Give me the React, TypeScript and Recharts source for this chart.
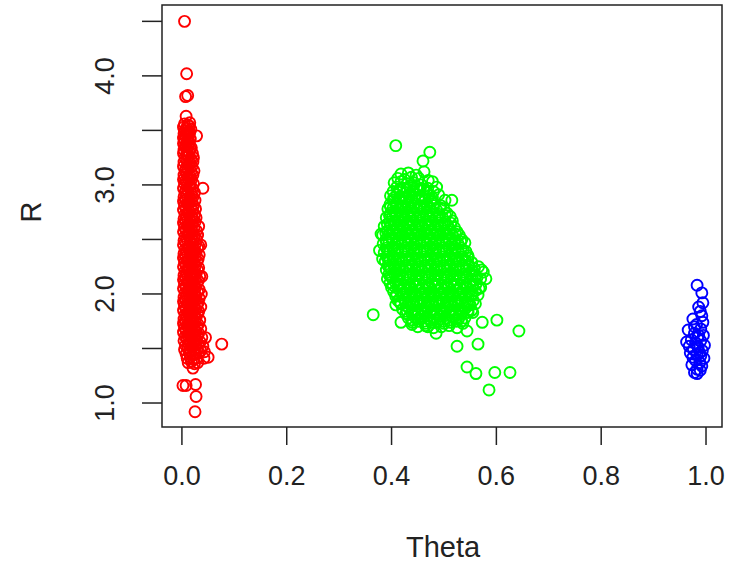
import React from 'react';
import { ScatterChart, Scatter, XAxis, YAxis, ReferenceArea } from 'recharts';

// --- axis setup (R base-plot look) ---
const xDomain: [number, number] = [-0.038, 1.0305];
const yDomain: [number, number] = [0.78, 4.65];
const xTicks = [0, 0.2, 0.4, 0.6, 0.8, 1.0];
const yTicks = [1, 1.5, 2, 2.5, 3, 3.5, 4, 4.5];
const yLabelTicks = [1, 2, 3, 4];

// --- cluster 1 (red), theta close to 0 ---
const redPoints: [number, number][] = [
  [0.005, 4.5], [0.009, 4.02], [0.007, 3.81], [0.011, 3.82], [0.008, 3.63], [0.028, 3.45], [0.040, 2.97],
  [0.005, 3.56], [0.011, 3.55], [0.015, 3.57], [0.003, 3.53], [0.009, 3.52], [0.014, 3.54],
  [0.006, 3.5], [0.012, 3.49], [0.017, 3.51], [0.004, 3.47], [0.010, 3.46], [0.015, 3.48],
  [0.007, 3.44], [0.013, 3.45], [0.003, 3.43], [0.005, 3.41], [0.011, 3.4], [0.016, 3.42],
  [0.003, 3.38], [0.008, 3.37], [0.014, 3.39], [0.006, 3.35], [0.012, 3.36], [0.018, 3.34],
  [0.004, 3.32], [0.010, 3.31], [0.016, 3.33],
  [0.003, 3.29], [0.009, 3.28], [0.014, 3.3], [0.020, 3.29], [0.006, 3.25], [0.012, 3.26], [0.017, 3.24], [0.022, 3.25],
  [0.004, 3.21], [0.010, 3.22], [0.015, 3.2], [0.021, 3.21], [0.003, 3.17], [0.008, 3.16], [0.013, 3.18], [0.019, 3.17],
  [0.006, 3.13], [0.011, 3.14], [0.017, 3.12], [0.023, 3.13], [0.004, 3.09], [0.009, 3.1], [0.015, 3.08], [0.021, 3.09],
  [0.003, 3.05], [0.007, 3.04], [0.012, 3.06], [0.018, 3.05], [0.005, 3.01], [0.010, 3.02], [0.016, 3.0], [0.022, 3.01],
  [0.003, 2.97], [0.008, 2.96], [0.014, 2.98], [0.020, 2.97], [0.006, 2.93], [0.012, 2.94], [0.018, 2.92], [0.024, 2.93],
  [0.004, 2.89], [0.009, 2.9], [0.015, 2.88], [0.021, 2.89], [0.003, 2.85], [0.007, 2.86], [0.013, 2.84], [0.019, 2.85], [0.025, 2.86],
  [0.005, 2.81], [0.011, 2.82], [0.017, 2.8], [0.022, 2.81], [0.003, 2.77], [0.008, 2.78], [0.014, 2.76], [0.020, 2.77], [0.026, 2.78],
  [0.006, 2.73], [0.012, 2.74], [0.018, 2.72], [0.024, 2.73], [0.004, 2.69], [0.009, 2.7], [0.015, 2.68], [0.021, 2.69], [0.027, 2.7],
  [0.003, 2.65], [0.007, 2.66], [0.013, 2.64], [0.019, 2.65], [0.025, 2.66], [0.005, 2.61], [0.011, 2.62], [0.017, 2.6], [0.023, 2.61],
  [0.003, 2.57], [0.008, 2.58], [0.014, 2.56], [0.020, 2.57], [0.028, 2.58], [0.006, 2.53], [0.012, 2.54], [0.018, 2.52], [0.024, 2.53], [0.030, 2.54],
  [0.004, 2.49], [0.010, 2.5], [0.016, 2.48], [0.022, 2.49], [0.028, 2.5],
  [0.003, 2.45], [0.008, 2.46], [0.014, 2.44], [0.020, 2.45], [0.026, 2.46], [0.032, 2.44],
  [0.006, 2.41], [0.012, 2.42], [0.018, 2.4], [0.024, 2.41], [0.030, 2.42],
  [0.004, 2.37], [0.009, 2.38], [0.015, 2.36], [0.021, 2.37], [0.027, 2.38], [0.033, 2.36],
  [0.003, 2.33], [0.007, 2.34], [0.013, 2.32], [0.019, 2.33], [0.025, 2.34], [0.031, 2.32],
  [0.005, 2.29], [0.011, 2.3], [0.017, 2.28], [0.023, 2.29], [0.029, 2.3],
  [0.003, 2.25], [0.008, 2.26], [0.014, 2.24], [0.020, 2.25], [0.026, 2.26], [0.032, 2.24],
  [0.006, 2.21], [0.012, 2.22], [0.018, 2.2], [0.024, 2.21], [0.030, 2.22],
  [0.004, 2.17], [0.009, 2.18], [0.015, 2.16], [0.021, 2.17], [0.027, 2.18], [0.034, 2.16],
  [0.003, 2.13], [0.007, 2.14], [0.013, 2.12], [0.019, 2.13], [0.025, 2.14], [0.031, 2.12],
  [0.005, 2.09], [0.011, 2.1], [0.017, 2.08], [0.023, 2.09], [0.029, 2.1],
  [0.003, 2.05], [0.008, 2.06], [0.014, 2.04], [0.020, 2.05], [0.026, 2.06], [0.033, 2.04],
  [0.006, 2.01], [0.012, 2.02], [0.018, 2.0], [0.024, 2.01], [0.030, 2.02], [0.037, 2.0],
  [0.004, 1.97], [0.009, 1.98], [0.015, 1.96], [0.021, 1.97], [0.027, 1.98], [0.033, 1.96],
  [0.003, 1.93], [0.007, 1.94], [0.013, 1.92], [0.019, 1.93], [0.025, 1.94], [0.031, 1.92],
  [0.005, 1.89], [0.011, 1.9], [0.017, 1.88], [0.023, 1.89], [0.029, 1.9], [0.036, 1.88],
  [0.003, 1.85], [0.008, 1.86], [0.014, 1.84], [0.020, 1.85], [0.026, 1.86], [0.032, 1.84],
  [0.006, 1.81], [0.012, 1.82], [0.018, 1.8], [0.024, 1.81], [0.030, 1.82],
  [0.004, 1.77], [0.009, 1.78], [0.015, 1.76], [0.021, 1.77], [0.027, 1.78], [0.034, 1.76],
  [0.003, 1.73], [0.007, 1.74], [0.013, 1.72], [0.019, 1.73], [0.025, 1.74], [0.031, 1.72],
  [0.005, 1.69], [0.011, 1.7], [0.017, 1.68], [0.023, 1.69], [0.029, 1.7], [0.036, 1.68],
  [0.003, 1.65], [0.008, 1.66], [0.014, 1.64], [0.020, 1.65], [0.026, 1.66], [0.032, 1.64],
  [0.006, 1.61], [0.012, 1.62], [0.018, 1.6], [0.024, 1.61], [0.030, 1.62], [0.038, 1.6],
  [0.004, 1.57], [0.010, 1.58], [0.016, 1.56], [0.022, 1.57], [0.028, 1.58], [0.035, 1.56],
  [0.007, 1.53], [0.013, 1.54], [0.019, 1.52], [0.025, 1.53], [0.031, 1.54], [0.040, 1.52],
  [0.005, 1.49], [0.011, 1.5], [0.017, 1.48], [0.023, 1.49], [0.029, 1.5], [0.036, 1.48],
  [0.008, 1.45], [0.014, 1.46], [0.020, 1.44], [0.026, 1.45], [0.033, 1.46], [0.043, 1.47],
  [0.010, 1.41], [0.016, 1.42], [0.022, 1.4], [0.028, 1.41], [0.042, 1.41],
  [0.012, 1.37], [0.018, 1.38], [0.024, 1.36], [0.030, 1.37],
  [0.045, 1.6], [0.038, 2.16], [0.036, 2.45], [0.032, 2.62], [0.076, 1.54], [0.05, 1.42], [0.021, 1.32],
  [0.002, 1.16], [0.008, 1.16], [0.026, 1.17], [0.027, 1.06], [0.025, 0.92],
];

// --- cluster 2 (green), theta around 0.45 ---
const greenPoints: [number, number][] = [
  [0.408, 3.36], [0.473, 3.3], [0.46, 3.22],
  [0.418, 3.1], [0.432, 3.11], [0.447, 3.09], [0.462, 3.12],
  [0.412, 3.06], [0.425, 3.05], [0.438, 3.07], [0.452, 3.06], [0.47, 3.04],
  [0.405, 3.02], [0.418, 3.03], [0.43, 3.01], [0.443, 3.02], [0.457, 3.0], [0.478, 3.03],
  [0.41, 2.98], [0.423, 2.97], [0.435, 2.99], [0.448, 2.98], [0.462, 2.96], [0.486, 2.98],
  [0.403, 2.94], [0.415, 2.95], [0.428, 2.93], [0.44, 2.94], [0.453, 2.95], [0.467, 2.93], [0.48, 2.94],
  [0.398, 2.9], [0.41, 2.91], [0.421, 2.89], [0.433, 2.9], [0.446, 2.91], [0.458, 2.89], [0.472, 2.9], [0.49, 2.91],
  [0.404, 2.86], [0.416, 2.87], [0.427, 2.85], [0.439, 2.86], [0.451, 2.87], [0.463, 2.85], [0.476, 2.86], [0.502, 2.86], [0.515, 2.86],
  [0.397, 2.82], [0.409, 2.83], [0.42, 2.81], [0.432, 2.82], [0.444, 2.83], [0.456, 2.81], [0.468, 2.82], [0.481, 2.83], [0.494, 2.81],
  [0.393, 2.78], [0.403, 2.79], [0.414, 2.77], [0.426, 2.78], [0.437, 2.79], [0.449, 2.77], [0.461, 2.78], [0.473, 2.79], [0.486, 2.77], [0.5, 2.78],
  [0.398, 2.74], [0.409, 2.75], [0.42, 2.73], [0.431, 2.74], [0.443, 2.75], [0.455, 2.73], [0.467, 2.74], [0.479, 2.75], [0.491, 2.73], [0.506, 2.74],
  [0.39, 2.7], [0.402, 2.71], [0.413, 2.69], [0.425, 2.7], [0.436, 2.71], [0.448, 2.69], [0.46, 2.7], [0.472, 2.71], [0.484, 2.69], [0.497, 2.7], [0.512, 2.71],
  [0.396, 2.66], [0.407, 2.67], [0.418, 2.65], [0.43, 2.66], [0.441, 2.67], [0.453, 2.65], [0.465, 2.66], [0.477, 2.67], [0.489, 2.65], [0.502, 2.66], [0.516, 2.67],
  [0.386, 2.62], [0.399, 2.63], [0.411, 2.61], [0.422, 2.62], [0.434, 2.63], [0.446, 2.61], [0.458, 2.62], [0.47, 2.63], [0.482, 2.61], [0.494, 2.62], [0.507, 2.63], [0.52, 2.61],
  [0.392, 2.58], [0.404, 2.59], [0.416, 2.57], [0.428, 2.58], [0.44, 2.59], [0.452, 2.57], [0.464, 2.58], [0.476, 2.59], [0.488, 2.57], [0.5, 2.58], [0.512, 2.59], [0.525, 2.57],
  [0.383, 2.54], [0.396, 2.55], [0.408, 2.53], [0.42, 2.54], [0.432, 2.55], [0.444, 2.53], [0.456, 2.54], [0.468, 2.55], [0.48, 2.53], [0.492, 2.54], [0.504, 2.55], [0.517, 2.53], [0.529, 2.54],
  [0.389, 2.5], [0.401, 2.51], [0.413, 2.49], [0.425, 2.5], [0.437, 2.51], [0.449, 2.49], [0.461, 2.5], [0.473, 2.51], [0.485, 2.49], [0.497, 2.5], [0.509, 2.51], [0.522, 2.49], [0.534, 2.5],
  [0.384, 2.46], [0.395, 2.47], [0.407, 2.45], [0.419, 2.46], [0.431, 2.47], [0.443, 2.45], [0.455, 2.46], [0.467, 2.47], [0.479, 2.45], [0.491, 2.46], [0.503, 2.47], [0.515, 2.45], [0.527, 2.46], [0.54, 2.47],
  [0.39, 2.42], [0.401, 2.43], [0.413, 2.41], [0.425, 2.42], [0.437, 2.43], [0.449, 2.41], [0.461, 2.42], [0.473, 2.43], [0.485, 2.41], [0.497, 2.42], [0.509, 2.43], [0.521, 2.41], [0.533, 2.42],
  [0.386, 2.38], [0.396, 2.39], [0.408, 2.37], [0.42, 2.38], [0.432, 2.39], [0.444, 2.37], [0.456, 2.38], [0.468, 2.39], [0.48, 2.37], [0.492, 2.38], [0.504, 2.39], [0.516, 2.37], [0.528, 2.38], [0.542, 2.39],
  [0.391, 2.34], [0.402, 2.35], [0.414, 2.33], [0.426, 2.34], [0.438, 2.35], [0.45, 2.33], [0.462, 2.34], [0.474, 2.35], [0.486, 2.33], [0.498, 2.34], [0.51, 2.35], [0.522, 2.33], [0.534, 2.34], [0.546, 2.35],
  [0.388, 2.3], [0.397, 2.31], [0.409, 2.29], [0.421, 2.3], [0.433, 2.31], [0.445, 2.29], [0.457, 2.3], [0.469, 2.31], [0.481, 2.29], [0.493, 2.3], [0.505, 2.31], [0.517, 2.29], [0.529, 2.3], [0.541, 2.31], [0.553, 2.29],
  [0.393, 2.26], [0.404, 2.27], [0.415, 2.25], [0.427, 2.26], [0.439, 2.27], [0.451, 2.25], [0.463, 2.26], [0.475, 2.27], [0.487, 2.25], [0.499, 2.26], [0.511, 2.27], [0.523, 2.25], [0.535, 2.26], [0.547, 2.27], [0.566, 2.25],
  [0.39, 2.22], [0.399, 2.23], [0.41, 2.21], [0.422, 2.22], [0.434, 2.23], [0.446, 2.21], [0.458, 2.22], [0.47, 2.23], [0.482, 2.21], [0.494, 2.22], [0.506, 2.23], [0.518, 2.21], [0.53, 2.22], [0.542, 2.23], [0.554, 2.21], [0.572, 2.22],
  [0.395, 2.18], [0.405, 2.19], [0.416, 2.17], [0.428, 2.18], [0.44, 2.19], [0.452, 2.17], [0.464, 2.18], [0.476, 2.19], [0.488, 2.17], [0.5, 2.18], [0.512, 2.19], [0.524, 2.17], [0.536, 2.18], [0.548, 2.19], [0.56, 2.17],
  [0.392, 2.14], [0.401, 2.15], [0.411, 2.13], [0.423, 2.14], [0.435, 2.15], [0.447, 2.13], [0.459, 2.14], [0.471, 2.15], [0.483, 2.13], [0.495, 2.14], [0.507, 2.15], [0.519, 2.13], [0.531, 2.14], [0.543, 2.15], [0.555, 2.13], [0.57, 2.14],
  [0.397, 2.1], [0.407, 2.11], [0.418, 2.09], [0.429, 2.1], [0.441, 2.11], [0.453, 2.09], [0.465, 2.1], [0.477, 2.11], [0.489, 2.09], [0.501, 2.1], [0.513, 2.11], [0.525, 2.09], [0.537, 2.1], [0.549, 2.11], [0.561, 2.09],
  [0.4, 2.06], [0.412, 2.07], [0.423, 2.05], [0.435, 2.06], [0.447, 2.07], [0.459, 2.05], [0.471, 2.06], [0.483, 2.07], [0.495, 2.05], [0.507, 2.06], [0.519, 2.07], [0.531, 2.05], [0.543, 2.06], [0.555, 2.07], [0.567, 2.05],
  [0.404, 2.02], [0.416, 2.03], [0.428, 2.01], [0.44, 2.02], [0.452, 2.03], [0.464, 2.01], [0.476, 2.02], [0.488, 2.03], [0.5, 2.01], [0.512, 2.02], [0.524, 2.03], [0.536, 2.01], [0.548, 2.02], [0.56, 2.03],
  [0.408, 1.98], [0.42, 1.99], [0.432, 1.97], [0.444, 1.98], [0.456, 1.99], [0.468, 1.97], [0.48, 1.98], [0.492, 1.99], [0.504, 1.97], [0.516, 1.98], [0.528, 1.99], [0.54, 1.97], [0.552, 1.98], [0.565, 1.99],
  [0.412, 1.94], [0.424, 1.95], [0.436, 1.93], [0.448, 1.94], [0.46, 1.95], [0.472, 1.93], [0.484, 1.94], [0.496, 1.95], [0.508, 1.93], [0.52, 1.94], [0.532, 1.95], [0.544, 1.93], [0.556, 1.94],
  [0.408, 1.9], [0.418, 1.91], [0.43, 1.89], [0.442, 1.9], [0.454, 1.91], [0.466, 1.89], [0.478, 1.9], [0.49, 1.91], [0.502, 1.89], [0.514, 1.9], [0.526, 1.91], [0.538, 1.89], [0.55, 1.9], [0.56, 1.91],
  [0.421, 1.86], [0.433, 1.87], [0.445, 1.85], [0.457, 1.86], [0.469, 1.87], [0.481, 1.85], [0.493, 1.86], [0.505, 1.87], [0.517, 1.85], [0.529, 1.86], [0.541, 1.87], [0.553, 1.85],
  [0.427, 1.82], [0.438, 1.83], [0.45, 1.81], [0.462, 1.82], [0.474, 1.83], [0.486, 1.81], [0.498, 1.82], [0.51, 1.83], [0.522, 1.81], [0.534, 1.82], [0.546, 1.83], [0.555, 1.83],
  [0.432, 1.78], [0.444, 1.79], [0.456, 1.77], [0.468, 1.78], [0.48, 1.79], [0.492, 1.77], [0.504, 1.78], [0.516, 1.79], [0.528, 1.77], [0.54, 1.78],
  [0.44, 1.74], [0.452, 1.75], [0.464, 1.73], [0.476, 1.74], [0.488, 1.75], [0.5, 1.73], [0.512, 1.74], [0.524, 1.75], [0.536, 1.73],
  [0.45, 1.7], [0.465, 1.71], [0.48, 1.69], [0.495, 1.7], [0.51, 1.71], [0.525, 1.69],
  [0.38, 2.55], [0.377, 2.4], [0.383, 2.32], [0.575, 2.2], [0.58, 2.14], [0.57, 2.06],
  [0.365, 1.81], [0.418, 1.74], [0.439, 1.72], [0.469, 1.7], [0.485, 1.64], [0.544, 1.66], [0.573, 1.74], [0.601, 1.76], [0.643, 1.66],
  [0.525, 1.52], [0.565, 1.54], [0.544, 1.33], [0.561, 1.27], [0.597, 1.28], [0.626, 1.28], [0.586, 1.12],
];

// dense core of the green cluster (points between the rows above)
const greenCorePoints: [number, number][] = [
  [0.416, 2.96], [0.429, 2.97], [0.441, 2.95], [0.455, 2.96], [0.469, 2.97],
  [0.404, 2.88], [0.415, 2.89], [0.427, 2.87], [0.439, 2.88], [0.452, 2.89], [0.464, 2.87], [0.478, 2.88],
  [0.398, 2.8], [0.408, 2.81], [0.42, 2.79], [0.431, 2.8], [0.443, 2.81], [0.455, 2.79], [0.467, 2.8], [0.48, 2.81], [0.493, 2.79],
  [0.396, 2.72], [0.407, 2.73], [0.419, 2.71], [0.43, 2.72], [0.442, 2.73], [0.454, 2.71], [0.466, 2.72], [0.478, 2.73], [0.49, 2.71], [0.503, 2.72],
  [0.392, 2.64], [0.405, 2.65], [0.416, 2.63], [0.428, 2.64], [0.44, 2.65], [0.452, 2.63], [0.464, 2.64], [0.476, 2.65], [0.488, 2.63], [0.5, 2.64], [0.513, 2.65],
  [0.389, 2.56], [0.402, 2.57], [0.414, 2.55], [0.426, 2.56], [0.438, 2.57], [0.45, 2.55], [0.462, 2.56], [0.474, 2.57], [0.486, 2.55], [0.498, 2.56], [0.51, 2.57], [0.522, 2.55],
  [0.39, 2.48], [0.401, 2.49], [0.413, 2.47], [0.425, 2.48], [0.437, 2.49], [0.449, 2.47], [0.461, 2.48], [0.473, 2.49], [0.485, 2.47], [0.497, 2.48], [0.509, 2.49], [0.521, 2.47], [0.532, 2.48],
  [0.393, 2.4], [0.407, 2.41], [0.419, 2.39], [0.431, 2.4], [0.443, 2.41], [0.455, 2.39], [0.467, 2.4], [0.479, 2.41], [0.491, 2.39], [0.503, 2.4], [0.515, 2.41], [0.527, 2.39], [0.537, 2.4],
  [0.394, 2.32], [0.403, 2.33], [0.415, 2.31], [0.427, 2.32], [0.439, 2.33], [0.451, 2.31], [0.463, 2.32], [0.475, 2.33], [0.487, 2.31], [0.499, 2.32], [0.511, 2.33], [0.523, 2.31], [0.535, 2.32], [0.546, 2.33],
  [0.396, 2.24], [0.405, 2.25], [0.416, 2.23], [0.428, 2.24], [0.44, 2.25], [0.452, 2.23], [0.464, 2.24], [0.476, 2.25], [0.488, 2.23], [0.5, 2.24], [0.512, 2.25], [0.524, 2.23], [0.536, 2.24], [0.548, 2.25], [0.558, 2.23],
  [0.398, 2.16], [0.41, 2.17], [0.422, 2.15], [0.434, 2.16], [0.446, 2.17], [0.458, 2.15], [0.47, 2.16], [0.482, 2.17], [0.494, 2.15], [0.506, 2.16], [0.518, 2.17], [0.53, 2.15], [0.542, 2.16], [0.554, 2.17], [0.563, 2.15],
  [0.403, 2.08], [0.413, 2.09], [0.424, 2.07], [0.435, 2.08], [0.447, 2.09], [0.459, 2.07], [0.471, 2.08], [0.483, 2.09], [0.495, 2.07], [0.507, 2.08], [0.519, 2.09], [0.531, 2.07], [0.543, 2.08], [0.555, 2.09],
  [0.41, 2.0], [0.422, 2.01], [0.434, 1.99], [0.446, 2.0], [0.458, 2.01], [0.47, 1.99], [0.482, 2.0], [0.494, 2.01], [0.506, 1.99], [0.518, 2.0], [0.53, 2.01], [0.542, 1.99], [0.554, 2.0],
  [0.416, 1.92], [0.427, 1.93], [0.439, 1.91], [0.451, 1.92], [0.463, 1.93], [0.475, 1.91], [0.487, 1.92], [0.499, 1.93], [0.511, 1.91], [0.523, 1.92], [0.535, 1.93], [0.547, 1.91],
  [0.43, 1.84], [0.439, 1.85], [0.451, 1.83], [0.463, 1.84], [0.475, 1.85], [0.487, 1.83], [0.499, 1.84], [0.511, 1.85], [0.523, 1.83], [0.535, 1.84], [0.546, 1.85],
  [0.44, 1.76], [0.45, 1.77], [0.462, 1.75], [0.474, 1.76], [0.486, 1.77], [0.498, 1.75], [0.51, 1.76], [0.522, 1.77], [0.533, 1.75],
];

// --- cluster 3 (blue), theta close to 1 ---
const bluePoints: [number, number][] = [
  [0.983, 2.08], [0.992, 2.01], [0.994, 1.92], [0.986, 1.88], [0.989, 1.84], [0.992, 1.8], [0.975, 1.77], [0.994, 1.74],
  [0.982, 1.72], [0.978, 1.7], [0.966, 1.67], [0.99, 1.68], [0.978, 1.64], [0.995, 1.62], [0.986, 1.62], [0.984, 1.6],
  [0.963, 1.56], [0.972, 1.58], [0.99, 1.57], [0.98, 1.55], [0.997, 1.53], [0.968, 1.52], [0.985, 1.51], [0.984, 1.52],
  [0.976, 1.49], [0.993, 1.48], [0.97, 1.46], [0.983, 1.45], [0.988, 1.46], [0.99, 1.43], [0.975, 1.42], [0.996, 1.41],
  [0.98, 1.39], [0.988, 1.37], [0.973, 1.35], [0.992, 1.34], [0.983, 1.31], [0.989, 1.3], [0.978, 1.28], [0.983, 1.27],
];

const toRows = (pts: [number, number][]) => pts.map(([x, y]) => ({ x, y }));
const redData = toRows(redPoints);
const greenData = toRows([...greenPoints, ...greenCorePoints]);
const blueData = toRows(bluePoints);

const FONT = '"Liberation Sans", Arial, Helvetica, sans-serif';

const ring = (color: string) => (props: any) => (
  <circle cx={props.cx} cy={props.cy} r={5.5} fill="none" stroke={color} strokeWidth={1.9} />
);

const XTick = (props: any) => {
  const { x, y, payload } = props;
  return (
    <text x={x} y={y + 38} textAnchor="middle" fontSize={27} fontFamily={FONT} fill="#222">
      {payload.value.toFixed(1)}
    </text>
  );
};

const YTick = (props: any) => {
  const { x, y, payload } = props;
  if (!yLabelTicks.includes(payload.value)) return <g />;
  const lx = x - 35;
  return (
    <text x={lx} y={y} textAnchor="middle" dominantBaseline="central" fontSize={27} fontFamily={FONT} fill="#222"
      transform={`rotate(-90, ${lx}, ${y})`}>
      {payload.value.toFixed(1)}
    </text>
  );
};

const App = () => {
  return (
    <div style={{ position: 'absolute', left: 0, top: 0, width: 739, height: 564, background: '#fff', fontFamily: FONT }}>
      <ScatterChart width={739} height={564} margin={{ top: 5, right: 17, bottom: 0, left: 0 }}>
        <XAxis
          type="number"
          dataKey="x"
          domain={xDomain}
          ticks={xTicks}
          allowDataOverflow
          axisLine={false}
          tickLine={{ stroke: '#222', strokeWidth: 1.5 }}
          tickSize={18}
          height={137}
          tick={<XTick />}
        />
        <YAxis
          type="number"
          dataKey="y"
          domain={yDomain}
          ticks={yTicks}
          allowDataOverflow
          axisLine={false}
          tickLine={{ stroke: '#222', strokeWidth: 1.5 }}
          tickSize={20}
          width={162}
          tick={<YTick />}
        />
        <ReferenceArea x1={xDomain[0]} x2={xDomain[1]} y1={yDomain[0]} y2={yDomain[1]} fill="none" stroke="#222" strokeWidth={1.5} />
        <Scatter data={redData} shape={ring('#ff0000')} isAnimationActive={false} />
        <Scatter data={greenData} shape={ring('#00ff00')} isAnimationActive={false} />
        <Scatter data={blueData} shape={ring('#0000ff')} isAnimationActive={false} />
      </ScatterChart>
      <div style={{ position: 'absolute', left: 443, top: 547, transform: 'translate(-50%, -50%)', fontSize: 29, color: '#222', whiteSpace: 'nowrap' }}>
        Theta
      </div>
      <div style={{ position: 'absolute', left: 31, top: 212, transform: 'translate(-50%, -50%) rotate(-90deg)', fontSize: 29, color: '#222' }}>
        R
      </div>
    </div>
  );
};

export default App;
